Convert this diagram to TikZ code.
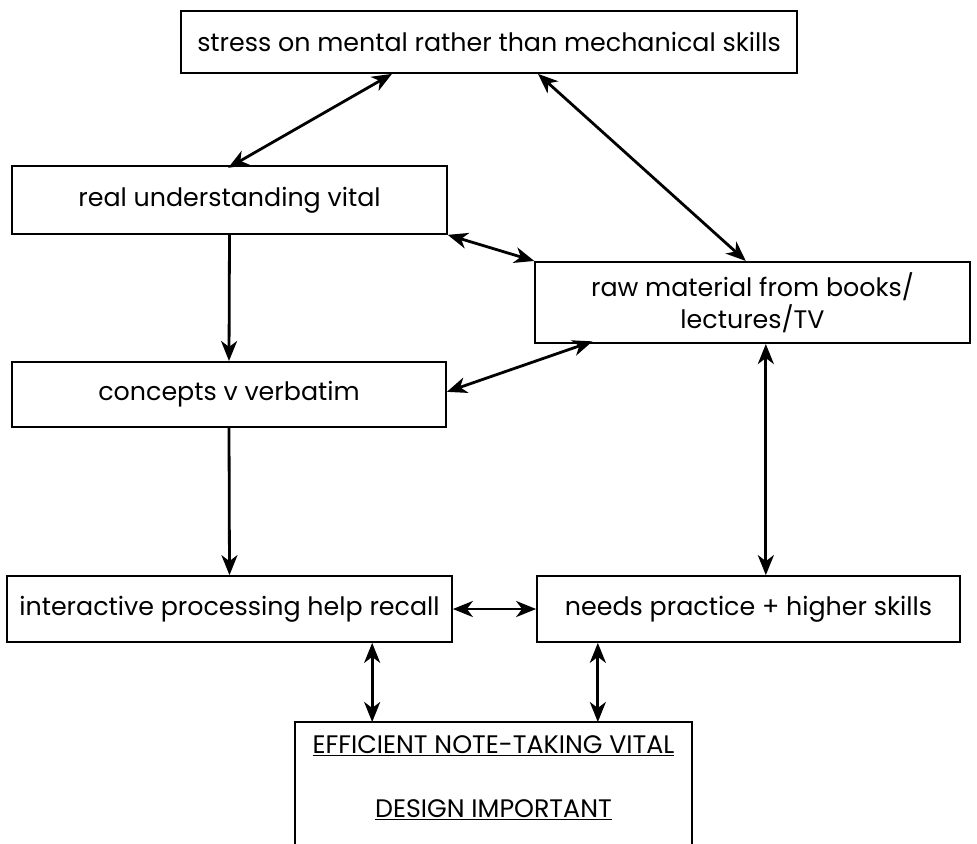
\documentclass[tikz,border=0pt]{standalone}
\usepackage{fontspec}
\setmainfont{Poppins}
\usetikzlibrary{arrows.meta}

\tikzset{
  idea/.style={draw, line width=1.3pt, inner sep=0pt, align=center, font=\fontsize{19}{24}\selectfont},
  link/.style={line width=2.1pt, {Stealth[length=15pt,width=12pt,inset=4.5pt]}-{Stealth[length=15pt,width=12pt,inset=4.5pt]}},
  flow/.style={line width=2.1pt, -{Stealth[length=15pt,width=12pt,inset=4.5pt]}}
}

\begin{document}
\begin{tikzpicture}[x=0.75pt,y=0.75pt,yscale=-1,xscale=1]
\useasboundingbox (0,0) rectangle (977,843);

% Text Node
\node [idea, minimum width=462pt, minimum height=46.5pt] (stress) at (489,42) {stress on mental rather than mechanical skills};
% Text Node
\node [idea, minimum width=326pt, minimum height=51pt] (real) at (229.5,200) {real understanding vital};
% Text Node
\node [idea, minimum width=326pt, minimum height=61pt] (raw) at (752.5,302.5) {raw material from books/\\lectures/TV};
% Text Node
\node [idea, minimum width=325.5pt, minimum height=49pt] (concepts) at (229,394.5) {concepts v verbatim};
% Text Node
\node [idea, minimum width=333.75pt, minimum height=49.5pt] (recall) at (229.5,609) {interactive processing help recall};
% Text Node
\node [idea, minimum width=317.25pt, minimum height=49.5pt] (practice) at (748.5,609) {needs practice + higher skills};
% Text Node
\node [font=\fontsize{19}{24}\selectfont, align=center, minimum width=297.75pt, anchor=north, inner sep=0pt] (notes) at (493.5,735)
  {\underline{EFFICIENT NOTE-TAKING VITAL}\\[24pt]\underline{DESIGN IMPORTANT}};
\coordinate (base) at (0,860);
\coordinate (lid) at (0,722);

%Shape: open box
\draw [line width=1.3pt] (notes.west |- base) -- (notes.west |- lid) -- (notes.east |- lid) -- (notes.east |- base);

%Straight Lines
\draw [link] ([xshift=-72.75pt]stress.south) -- ([xshift=-1pt,yshift=2pt]real.north);
\draw [link] ([xshift=36.75pt]stress.south) -- ([xshift=-5pt]raw.north);
\draw [link] (real.south east) -- (raw.north west);
\draw [flow] (real.south) -- (concepts.north);
\draw [link] ([xshift=-120pt,yshift=-2pt]raw.south) -- ([yshift=-2pt]concepts.east);
\draw [flow] (concepts.south) -- (recall.north);
\draw [link] ([xshift=10pt]raw.south) -- ([xshift=10pt]raw.south |- practice.north);
\draw [link] (recall.east) -- (practice.west);
\draw [link] ([xshift=107pt]recall.south) -- ([xshift=107pt]recall.south |- lid);
\draw [link] ([xshift=-113pt]practice.south) -- ([xshift=-113pt]practice.south |- lid);

\end{tikzpicture}
\end{document}
